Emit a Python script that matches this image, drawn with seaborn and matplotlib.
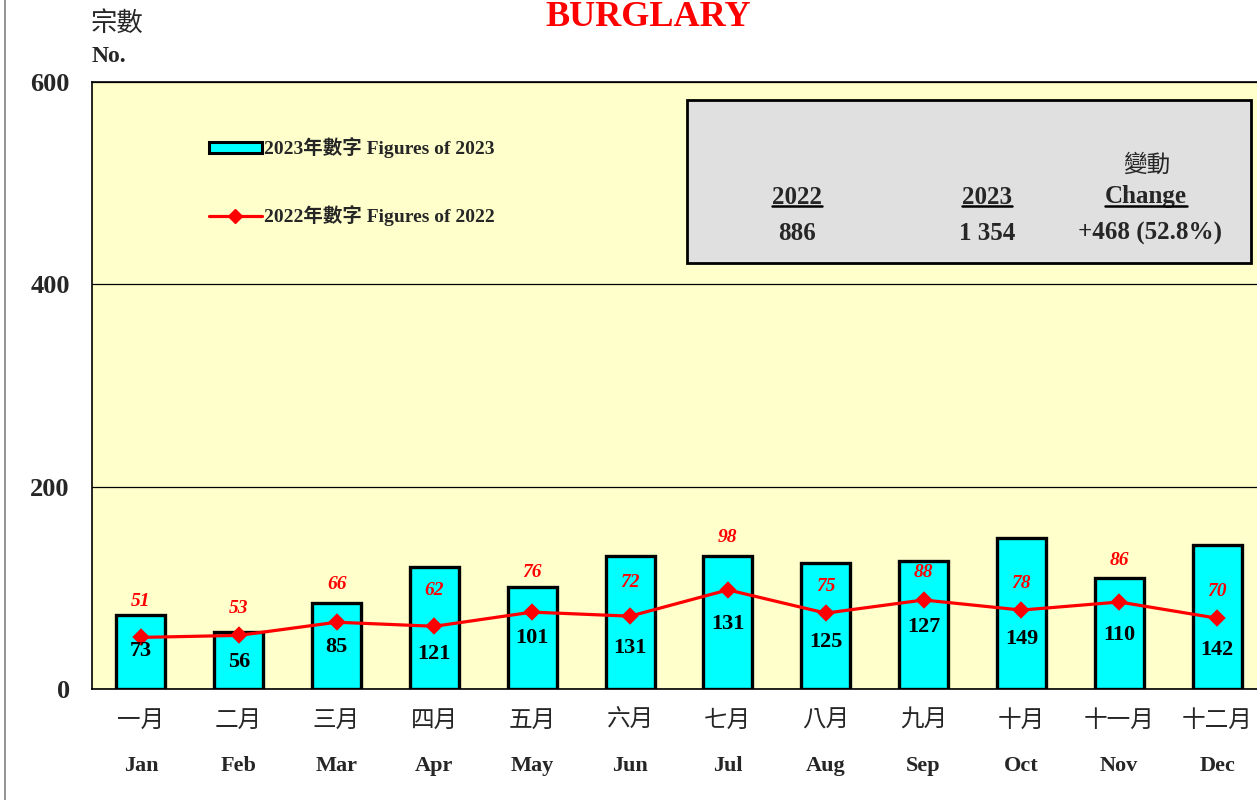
import seaborn as sns
import matplotlib.pyplot as plt
import pandas as pd
from matplotlib.patches import Patch, Rectangle
from matplotlib.lines import Line2D
from matplotlib import transforms

months_zh = ["一月", "二月", "三月", "四月", "五月", "六月",
             "七月", "八月", "九月", "十月", "十一月", "十二月"]
months_en = ["Jan", "Feb", "Mar", "Apr", "May", "Jun",
             "Jul", "Aug", "Sep", "Oct", "Nov", "Dec"]
fig_2023 = [73, 56, 85, 121, 101, 131, 131, 125, 127, 149, 110, 142]
fig_2022 = [51, 53, 66, 62, 76, 72, 98, 75, 88, 78, 86, 70]
total_2022 = "886"
total_2023 = "1 354"
change = "+468 (52.8%)"

# label nudges (pixels) relative to the 2022 point, as placed in the original
up22 = [36, 27, 38, 36, 40, 34, 52, 27, 27, 27, 41, 27]
down23 = [14, 27, 25, 28, 26, 32, 34, 29, 27, 29, 33, 32]

sns.set_style("white")
SERIF = ["Liberation Serif", "Noto Sans CJK TC"]
CJK = ["Noto Sans CJK TC", "DejaVu Sans"]
plt.rcParams["font.family"] = SERIF

W, H = 1257, 800
fig = plt.figure(figsize=(W / 100, H / 100), dpi=100)
ax = fig.add_axes([92 / W, 1 - 689 / H, 1174 / W, 607 / H])
ax.set_facecolor("#FFFFCC")

df = pd.DataFrame({"month": months_zh, "y2023": fig_2023, "y2022": fig_2022})

sns.barplot(data=df, x="month", y="y2023", color="#00FFFF", saturation=1,
            width=0.5, edgecolor="black", linewidth=2.4, ax=ax, zorder=2)
sns.pointplot(data=df, x="month", y="y2022", color="red", markers="D",
              linestyles="-", markersize=7, linewidth=2.3, errorbar=None,
              ax=ax, zorder=4)

ax.set_ylim(0, 600)
ax.set_xlim(-0.5, 11.5)
ax.set_yticks([0, 200, 400, 600])
ax.yaxis.grid(True, color="black", linewidth=0.9, zorder=0)
ax.set_axisbelow(True)
ax.tick_params(axis="y", length=0, pad=16, labelsize=19)
for t in ax.get_yticklabels():
    t.set_fontweight("bold")
ax.set_xlabel("")
ax.set_ylabel("")
ax.set_xticks(range(12))
ax.set_xticklabels([])
ax.tick_params(axis="x", length=0)
for s in ax.spines.values():
    s.set_color("black")
    s.set_linewidth(1.2)

# month labels
trans = transforms.blended_transform_factory(ax.transData, fig.transFigure)
for i in range(12):
    ax.text(i, 1 - 720 / H, months_zh[i], transform=trans, ha="center",
            va="center", fontsize=17, family=CJK)
    ax.text(i, 1 - 766 / H, months_en[i], transform=trans, ha="center",
            va="center", fontsize=16, fontweight="bold")

# value labels
for i in range(12):
    ax.annotate(str(fig_2022[i]), (i, fig_2022[i]), xytext=(0, up22[i] * 0.72),
                textcoords="offset points", ha="center", va="center",
                color="red", fontsize=14, fontweight="bold", style="italic",
                zorder=5)
    ax.annotate(str(fig_2023[i]), (i, fig_2022[i]), xytext=(0, -down23[i] * 0.72),
                textcoords="offset points", ha="center", va="center",
                color="black", fontsize=16, fontweight="bold", zorder=5)

# legend
handles = [Patch(facecolor="#00FFFF", edgecolor="black", linewidth=2.2),
           Line2D([0], [0], color="red", linewidth=2.3, marker="D",
                  markersize=7)]
labels = ["2023年數字 Figures of 2023", "2022年數字 Figures of 2022"]
leg = ax.legend(handles, labels, loc="upper left",
                bbox_to_anchor=((191 - 92) / 1174, (689 - 120) / 607),
                frameon=False, handlelength=2.75, handleheight=0.5,
                handletextpad=0.1, labelspacing=2.4,
                prop={"family": SERIF, "weight": "bold", "size": 14})

# summary box
fx = lambda px: px / W
fy = lambda py: 1 - py / H
fig.patches.append(Rectangle((fx(687), fy(263)), fx(1251) - fx(687),
                             fy(100) - fy(263), transform=fig.transFigure,
                             facecolor="#E0E0E0", edgecolor="black",
                             linewidth=2, zorder=10))
heads = []
for x, txt in [(797, "2022"), (987, "2023"), (1146, "Change")]:
    heads.append(fig.text(fx(x), fy(197), txt, ha="center", va="center",
                          fontsize=18, fontweight="bold", zorder=11))
fig.text(fx(1147), fy(165), "變動", ha="center", va="center", fontsize=17,
         family=CJK, zorder=11)
for x, txt in [(797, total_2022), (987, total_2023), (1150, change)]:
    fig.text(fx(x), fy(233), txt, ha="center", va="center", fontsize=18,
             fontweight="bold", zorder=11)

# titles
fig.text(fx(648), fy(17), "BURGLARY", ha="center", va="center", color="red",
         fontsize=26, fontweight="bold")
fig.text(fx(91), fy(23), "宗數", ha="left", va="center", fontsize=19, family=CJK)
fig.text(fx(92), fy(57), "No.", ha="left", va="center", fontsize=17,
         fontweight="bold")
fig.add_artist(Line2D([fx(5), fx(5)], [0, 1], color="#808080", linewidth=1.2))

# underline the box headers
fig.canvas.draw()
r = fig.canvas.get_renderer()
inv = fig.transFigure.inverted()
for t in heads:
    bb = t.get_window_extent(r)
    (x0, y0), (x1, _) = inv.transform([(bb.x0, bb.y0), (bb.x1, bb.y1)])
    fig.add_artist(Line2D([x0, x1], [y0 + 0.003, y0 + 0.003], color="black",
                          linewidth=1.8, zorder=12))

plt.savefig("out.png", dpi=100)
